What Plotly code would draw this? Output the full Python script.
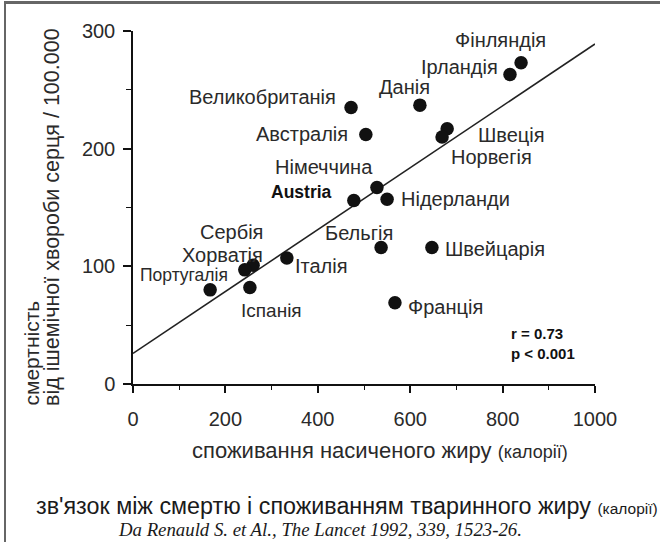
import plotly.graph_objects as go

# ---- data ----
countries = ["Фінляндія", "Ірландія", "Данія", "Великобританія", "Австралія",
             "Німеччина", "Austria", "Нідерланди", "Швеція", "Норвегія",
             "Бельгія", "Швейцарія", "Франція", "Сербія", "Хорватія",
             "Португалія", "Іспанія", "Італія"]
sat_fat_cal = [840, 816, 621, 472, 504, 528, 478, 550, 680, 669,
               537, 647, 567, 260, 242, 167, 253, 333]
chd_mortality = [273, 263, 237, 235, 212, 167, 156, 157, 217, 210,
                 116, 116, 69, 101, 97, 80, 82, 107]
reg_x = [0, 1000]
reg_y = [26, 289]
x_ticks = [0, 200, 400, 600, 800, 1000]
y_ticks = [0, 100, 200, 300]
stats_text = ["r = 0.73", "p < 0.001"]

# ---- label placement (style only): xanchor, dx px, dy px (screen down), font size ----
label_style = {
    "Фінляндія": ("center", -21, -23, 20),
    "Ірландія": ("right", -10, -8, 20),
    "Данія": ("center", -15, -18, 20),
    "Великобританія": ("right", -13, -10, 20),
    "Австралія": ("right", -16, -1, 20),
    "Німеччина": ("right", -2, -21, 20),
    "Austria": ("right", -20, -8, 17.5),
    "Нідерланди": ("left", 12, 0, 20),
    "Швеція": ("left", 29, 6, 20),
    "Норвегія": ("left", 7, 20, 20),
    "Бельгія": ("right", 14, -15, 20),
    "Швейцарія": ("left", 11, 1, 20),
    "Франція": ("left", 11, 4, 20),
    "Сербія": ("right", 12, -33, 20),
    "Хорватія": ("right", 20, -15, 20),
    "Португалія": ("right", 20, -15, 17.5),
    "Іспанія": ("center", 22, 23, 19),
    "Італія": ("left", 6, 8, 20),
}

TXT = "#2a2a2a"
FONT = "Liberation Sans"

# plot-area geometry helpers (pixels -> paper)
L, R, T, B = 133, 65, 31, 158
W, H = 660, 542
PW, PH = W - L - R, H - T - B
def px(xp):
    return (xp - L) / PW
def py(yp):
    return (H - B - yp) / PH

fig = go.Figure()

fig.add_trace(go.Scatter(x=reg_x, y=reg_y, mode="lines",
                         line=dict(color="#222222", width=1.6),
                         hoverinfo="skip", showlegend=False))
fig.add_trace(go.Scatter(x=sat_fat_cal, y=chd_mortality, mode="markers",
                         marker=dict(color="#111111", size=13.5),
                         text=countries, showlegend=False, cliponaxis=False))

annotations = []
for name, xv, yv in zip(countries, sat_fat_cal, chd_mortality):
    xa, dx, dy, fs = label_style[name]
    bold = name == "Austria"
    annotations.append(dict(
        x=xv, y=yv, xref="x", yref="y", text=name, showarrow=False,
        xanchor=xa, yanchor="middle", xshift=dx, yshift=-dy,
        font=dict(family=FONT, size=fs, color="#111111" if bold else TXT,
                  weight="bold" if bold else "normal")))

# r / p stats
annotations.append(dict(x=px(509), y=py(333), xref="paper", yref="paper",
                        text=stats_text[0], showarrow=False, xanchor="left", yanchor="middle",
                        font=dict(family=FONT, size=15, color="#111111", weight="bold")))
annotations.append(dict(x=px(509), y=py(353), xref="paper", yref="paper",
                        text=stats_text[1], showarrow=False, xanchor="left", yanchor="middle",
                        font=dict(family=FONT, size=15, color="#111111", weight="bold")))

# axis titles
annotations.append(dict(x=px(380), y=py(451), xref="paper", yref="paper",
                        text="споживання насиченого жиру <span style='font-size:18px'>(калорії)</span>",
                        showarrow=False, xanchor="center", yanchor="middle",
                        font=dict(family=FONT, size=22, color=TXT)))
annotations.append(dict(x=px(31), y=py(408), xref="paper", yref="paper",
                        text="смертність", textangle=-90, showarrow=False,
                        xanchor="center", yanchor="bottom",
                        font=dict(family=FONT, size=21, color=TXT)))
annotations.append(dict(x=px(52), y=py(408), xref="paper", yref="paper",
                        text="від ішемічної хвороби серця / 100.000", textangle=-90,
                        showarrow=False, xanchor="center", yanchor="bottom",
                        font=dict(family=FONT, size=21.5, color=TXT)))

# bottom caption and citation
annotations.append(dict(x=px(347), y=py(506), xref="paper", yref="paper",
                        text="зв'язок між смертю і споживанням тваринного жиру <span style='font-size:15.5px'>(калорії)</span>",
                        showarrow=False, xanchor="center", yanchor="middle",
                        font=dict(family=FONT, size=23.3, color="#1a1a1a")))
annotations.append(dict(x=px(320), y=py(529), xref="paper", yref="paper",
                        text="Da Renauld S. et Al., The Lancet 1992, 339, 1523-26.",
                        showarrow=False, xanchor="center", yanchor="middle",
                        font=dict(family="Liberation Serif", size=18.8, color="#1a1a1a",
                                  style="italic")))

axis_common = dict(showgrid=False, zeroline=False, showline=True, linecolor="#111111",
                   linewidth=1.5, ticks="outside", tickcolor="#111111", tickwidth=1.5,
                   tickfont=dict(family=FONT, size=20, color=TXT))

fig.update_layout(
    width=W, height=H, autosize=False,
    margin=dict(l=L, r=R, t=T, b=B, pad=0),
    paper_bgcolor="white", plot_bgcolor="white",
    xaxis=dict(range=[0, 1000], tickvals=x_ticks, ticklen=7, ticklabelstandoff=9,
               minor=dict(dtick=100, tick0=0, ticks="outside", ticklen=4,
                          tickcolor="#111111", tickwidth=1.2),
               **axis_common),
    yaxis=dict(range=[0, 300], tickvals=y_ticks, ticklen=8, ticklabelstandoff=4,
               minor=dict(dtick=50, tick0=0, ticks="outside", ticklen=5,
                          tickcolor="#111111", tickwidth=1.2),
               **axis_common),
    annotations=annotations, showlegend=False,
)

# page frame (top and left border of the scanned figure) as a non-interactive overlay
post = (
    "document.body.style.margin='0';document.body.style.padding='0';"
    "var f=document.createElement('div');"
    "f.style.cssText='position:absolute;left:4px;top:1px;width:660px;height:545px;"
    "border-top:3px solid #666;border-left:2px solid #666;pointer-events:none;box-sizing:border-box;';"
    "document.body.appendChild(f);"
)

fig.write_html("out.html", post_script=post, config={"displayModeBar": False})
